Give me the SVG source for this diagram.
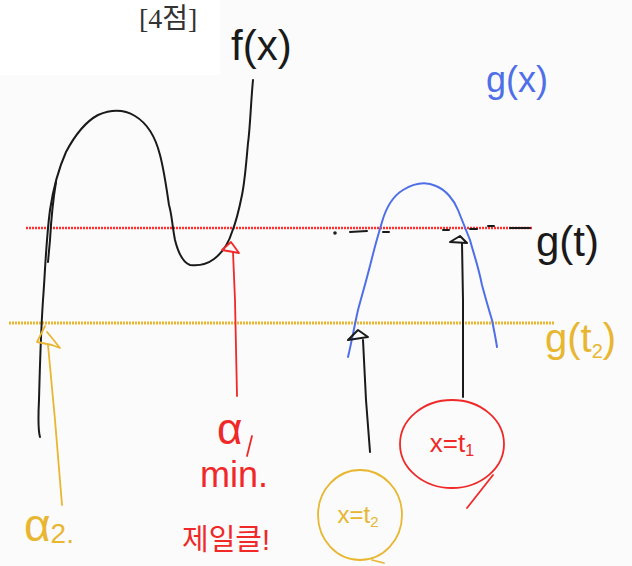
<svg xmlns="http://www.w3.org/2000/svg" width="632" height="566" viewBox="0 0 632 566">
<style>
.ink{fill:none;stroke-linecap:round;stroke-linejoin:round}
.blk{stroke:#1a1a1a;stroke-width:2}
.red{stroke:#f02828;stroke-width:1.8}
.yel{stroke:#e8b630;stroke-width:1.8}
.blu{stroke:#4f6fe8;stroke-width:2}
.hand{font-family:"Liberation Sans","DejaVu Sans","Noto Sans CJK KR",sans-serif}
</style>
<rect width="632" height="566" fill="#fbfbfb"/>
<rect width="220" height="75" fill="#ffffff"/>
<text x="139" y="28" font-family="Liberation Serif,'Noto Sans CJK KR',serif" font-size="28" fill="#333">[4점]</text>

<g id="guides">
<line x1="26" y1="228" x2="532" y2="228" stroke="#ff3030" stroke-width="2.5" stroke-dasharray="2 1"/>
<line x1="9" y1="323" x2="554" y2="323" stroke="#e8b630" stroke-width="3" stroke-dasharray="2 1"/>
<g class="ink blk" stroke-width="1.6">
<circle cx="335" cy="233" r="0.8"/>
<path d="M350 232 L367 231 M383 232 L389 232 M443 230 L449 230 M470 229 L477 229 M488 226 L494 226 M510 228 L530 228"/>
</g>
</g>

<g id="f-curve" class="ink blk">
<path d="M253 80 C251 100 250 130 248 143 C246 165 245 180 242 195 C239 210 236 222 232 232 C228 245 222 253 214 259 C206 265 198 266 190 265 C182 262 178 252 175 240 C172 225 172 215 169 205 C166 185 164 170 160 155 C155 135 145 122 135 116 C125 110 112 109 98 115 C85 122 75 135 66 152 C58 170 53 190 50 210 C46 240 45 275 43 300 C41 330 40 360 39 400 C38 420 38 430 40 437"/>
<path d="M56 182 C53 200 51 222 50 240 L48 262"/>
</g>

<g id="g-curve" class="ink blu">
<path d="M348 357 C352 340 354 328 358 310 C362 295 366 282 372 258 C376 242 379 232 382 222 C386 208 393 196 403 190 C413 184 425 181 436 186 C446 190 454 200 458 210 C462 220 466 230 470 240 C474 255 478 265 482 285 C486 300 489 310 492 320 C494 330 496 340 497 347"/>
</g>

<g id="label-fx"><text class="hand" x="231" y="60" font-size="42" fill="#1a1a1a">f(x)</text></g>
<g id="label-gx"><text class="hand" x="486" y="92" font-size="36" fill="#4f6fe8">g(x)</text></g>
<g id="label-gt1"><text class="hand" x="536" y="256" font-size="42" fill="#1a1a1a">g(t)</text></g>
<g id="label-gt2"><text class="hand" x="545" y="352" font-size="40" fill="#e8b630">g(t<tspan font-size="20" dy="6">2</tspan><tspan dy="-6">)</tspan></text></g>

<g id="connectors">
<g id="arrow-a1">
<path class="ink red" d="M237 396 L235 300 L233 252"/>
<path class="ink red" stroke-width="2.4" d="M222 250 L231 242 L239 253 Z"/>
</g>
<g id="arrow-a2">
<path class="ink yel" d="M62 505 L55 420 L48 345"/>
<path class="ink yel" d="M45 326 L37 342 L52 345 L60 348 L52 338 L47 332"/>
</g>
<g id="arrow-t1">
<path class="ink blk" d="M463 397 L463 300 L462 243"/>
<path class="ink blk" d="M450 242 L460 236 L467 243 Z"/>
</g>
<g id="arrow-t2">
<path class="ink blk" d="M370 452 L366 400 L364 360 L363 340"/>
<path class="ink blk" d="M348 340 L358 330 L368 337 Z"/>
</g>
</g>

<g id="label-a1">
<text class="hand" x="217" y="444" font-size="44" fill="#f02828">α</text>
<path class="ink red" stroke-width="2.6" d="M252 436 L247 456"/>
</g>
<g id="label-min"><text class="hand" x="200" y="487" font-size="36" fill="#f02828">min.</text></g>
<g id="label-biggest"><text class="hand" x="182" y="550" font-size="29" fill="#f02828">제일클!</text></g>
<g id="label-a2"><text class="hand" x="24" y="541" font-size="46" fill="#e8b630">α<tspan font-size="28" dy="2">2.</tspan></text></g>

<g id="node-t1">
<ellipse class="ink red" cx="452" cy="444" rx="52" ry="44"/>
<path class="ink red" d="M467 508 L493 475"/>
<text class="hand" x="452" y="452" font-size="26" fill="#f02828" text-anchor="middle">x=t<tspan font-size="16" dy="4">1</tspan></text>
</g>
<g id="node-t2">
<ellipse class="ink yel" cx="360" cy="515" rx="42" ry="45"/>
<path class="ink yel" d="M372 560 L384 563"/>
<text class="hand" x="358" y="523" font-size="24" fill="#e8b630" text-anchor="middle">x=t<tspan font-size="15" dy="4">2</tspan></text>
</g>
</svg>
